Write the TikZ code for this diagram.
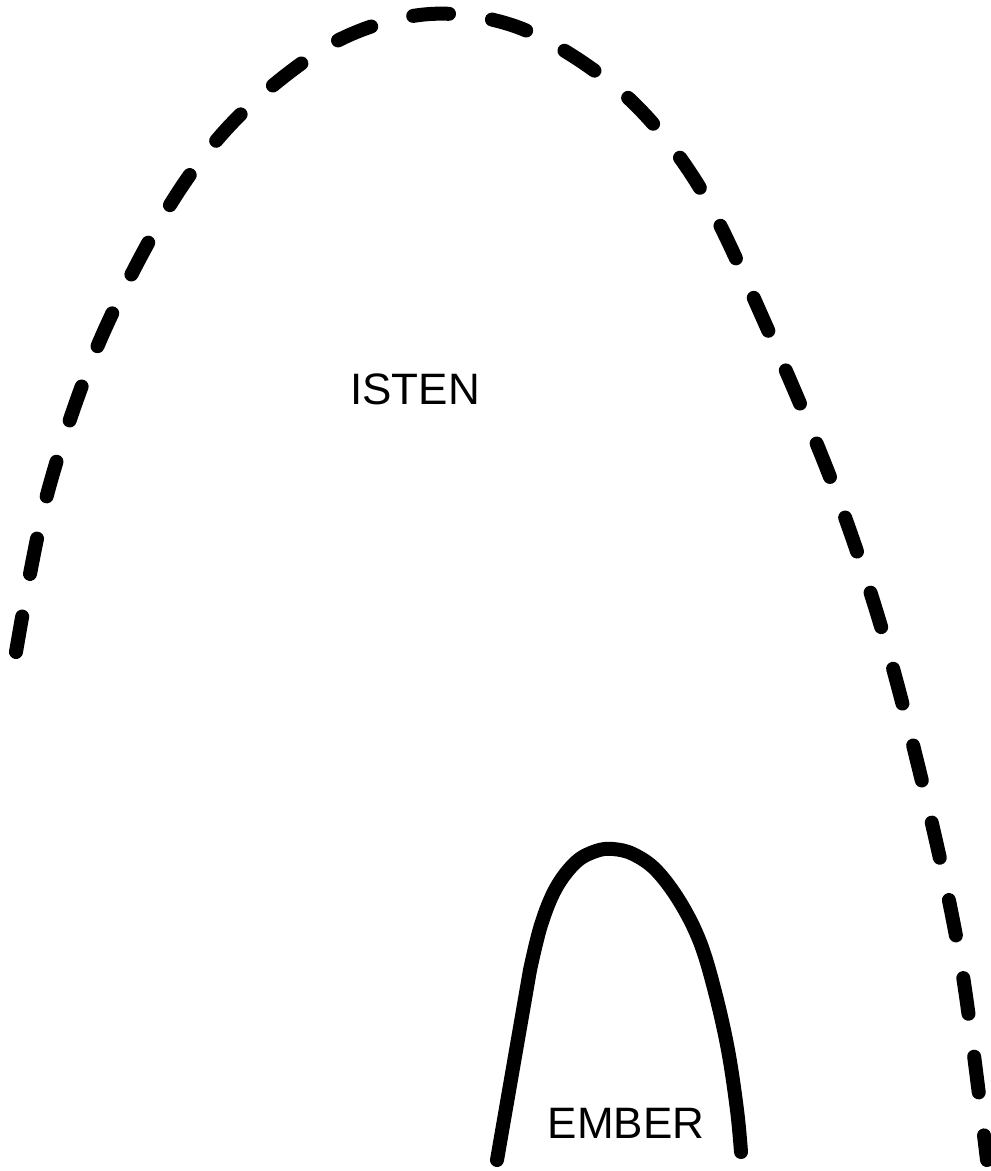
\documentclass[tikz,border=0pt]{standalone}
\usepackage{fontspec}
\setmainfont{Liberation Sans}
\begin{document}
\begin{tikzpicture}[x=0.75pt,y=-0.75pt,
  dasharch/.style={line width=10.5pt,line cap=round,dash pattern=on 27pt off 32.5pt},
  solidarch/.style={line width=10.5pt,line cap=round,line join=round},
  lbl/.style={font=\fontsize{33}{36}\selectfont,inner sep=0pt}]
\useasboundingbox (0,0) rectangle (990,1171);
\draw[dasharch] plot[smooth,tension=0.55] coordinates {(16,652) (47,495) (98,345) (170,205) (240,115) (335,42) (430,14) (525,30) (625,95) (700,188) (768,330) (835,490) (885,640) (930,815) (962,970) (987,1160)};
\draw[solidarch] (497,1160) -- (530,970) plot[smooth,tension=0.6] coordinates {(530,970) (541,925) (556,888) (576,862) (596,851) (613,849) (633,854) (656,870) (680,902) (700,942) (715,992) (728,1050) (737,1110) (741,1152)};
\node[lbl] (isten) at (415,389) {ISTEN};
\node[lbl] (ember) at (626,1123) {EMBER};
\end{tikzpicture}
\end{document}
